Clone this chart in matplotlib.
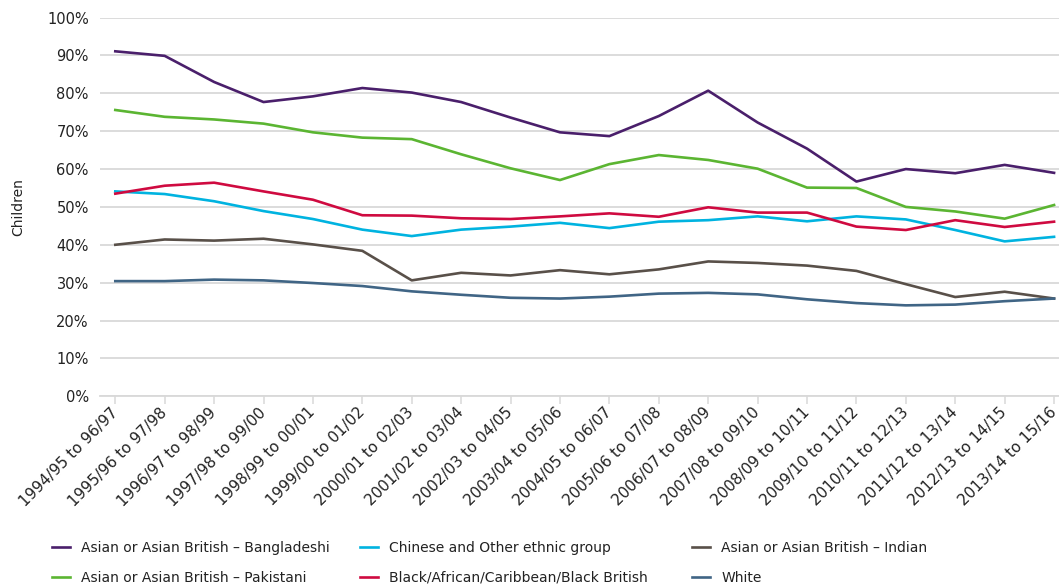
import matplotlib.pyplot as plt
from matplotlib.ticker import PercentFormatter

years = ['1994/95 to 96/97', '1995/96 to 97/98', '1996/97 to 98/99', '1997/98 to 99/00',
         '1998/99 to 00/01', '1999/00 to 01/02', '2000/01 to 02/03', '2001/02 to 03/04',
         '2002/03 to 04/05', '2003/04 to 05/06', '2004/05 to 06/07', '2005/06 to 07/08',
         '2006/07 to 08/09', '2007/08 to 09/10', '2008/09 to 10/11', '2009/10 to 11/12',
         '2010/11 to 12/13', '2011/12 to 13/14', '2012/13 to 14/15', '2013/14 to 15/16']

bangladeshi = [91.1, 89.9, 83.0, 77.7, 79.2, 81.4, 80.2, 77.7, 73.6, 69.7,
               68.7, 74.0, 80.7, 72.3, 65.4, 56.7, 60.0, 58.9, 61.1, 59.0]
pakistani = [75.6, 73.8, 73.1, 72.0, 69.7, 68.3, 67.9, 63.9, 60.2, 57.1,
             61.3, 63.7, 62.4, 60.1, 55.1, 55.0, 50.0, 48.8, 46.9, 50.5]
chinese = [54.1, 53.4, 51.5, 48.9, 46.8, 44.0, 42.3, 44.0, 44.8, 45.8,
           44.4, 46.1, 46.5, 47.5, 46.2, 47.5, 46.7, 43.9, 40.9, 42.1]
black = [53.5, 55.6, 56.4, 54.1, 51.9, 47.8, 47.7, 47.0, 46.8, 47.5,
         48.3, 47.4, 49.9, 48.5, 48.5, 44.8, 43.9, 46.5, 44.7, 46.1]
indian = [40.0, 41.4, 41.1, 41.6, 40.1, 38.4, 30.6, 32.6, 31.9, 33.3,
          32.2, 33.5, 35.6, 35.2, 34.5, 33.1, 29.6, 26.2, 27.6, 25.8]
white = [30.4, 30.4, 30.8, 30.6, 29.9, 29.1, 27.7, 26.8, 26.0, 25.8,
         26.3, 27.1, 27.3, 26.9, 25.6, 24.6, 24.0, 24.2, 25.1, 25.8]

series = [
    ('Asian or Asian British \u2013 Bangladeshi', bangladeshi, '#4a1f6b'),
    ('Asian or Asian British \u2013 Pakistani', pakistani, '#5bb532'),
    ('Chinese and Other ethnic group', chinese, '#00b3e0'),
    ('Black/African/Caribbean/Black British', black, '#cf0a40'),
    ('Asian or Asian British \u2013 Indian', indian, '#595049'),
    ('White', white, '#406585'),
]

plt.rcParams['font.family'] = ['DejaVu Sans']
fig = plt.figure(figsize=(10.59, 5.87), dpi=100)
ax = fig.add_axes([0.0944, 0.325, 0.9056, 0.645])

x = list(range(len(years)))
lines = []
for name, vals, col in series:
    ln, = ax.plot(x, vals, color=col, lw=1.9, label=name)
    lines.append(ln)

ax.set_ylim(0, 100)
ax.set_xlim(-0.31, 19.1)
ax.set_yticks(range(0, 101, 10))
ax.yaxis.set_major_formatter(PercentFormatter(decimals=0))
ax.grid(axis='y', color='#d9d9d9', lw=1.3)
ax.set_axisbelow(True)
for s in ['top', 'right', 'left']:
    ax.spines[s].set_visible(False)
ax.spines['bottom'].set_color('#d9d9d9')
ax.spines['bottom'].set_linewidth(1.3)
ax.set_xticks(x)
ax.set_xticklabels(years, rotation=45, ha='right', va='center', rotation_mode='anchor',
                   fontsize=11, color='#222222')
ax.tick_params(axis='x', length=6, color='#d9d9d9', width=1.1, pad=4)
ax.tick_params(axis='y', length=0, labelsize=10.5, labelcolor='#222222', pad=8)
ax.set_ylabel('Children', fontsize=10, color='#222222', labelpad=16)

# one legend per column so each column starts where the reference's does
col_x = [52, 360, 692]
for i, cx in enumerate(col_x):
    fig.legend(handles=lines[2 * i:2 * i + 2], loc='center left',
               bbox_to_anchor=(cx / 1059, 1 - 563 / 587), frameon=False,
               fontsize=10, handlelength=1.3, handletextpad=0.8,
               labelspacing=1.15, borderpad=0, borderaxespad=0,
               labelcolor='#222222')

fig.savefig('out.png', dpi=100)
